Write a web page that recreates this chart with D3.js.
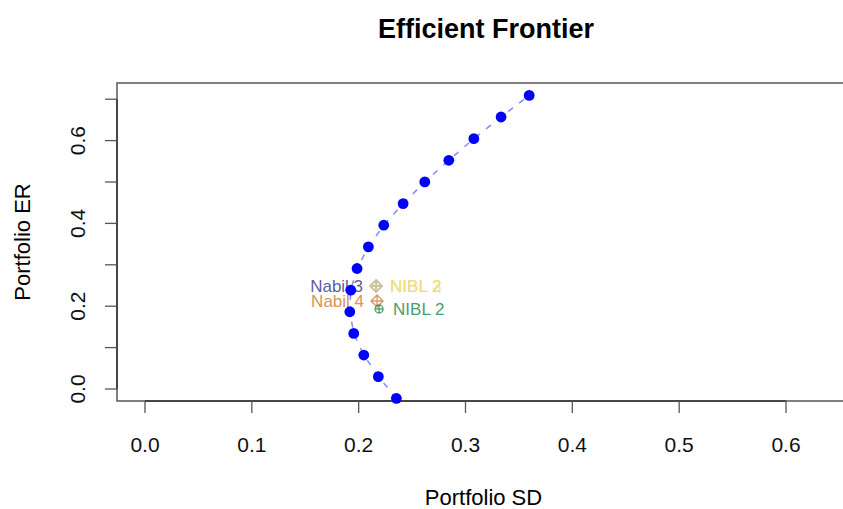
<!DOCTYPE html>
<html>
<head>
<meta charset="utf-8">
<script src="https://cdn.jsdelivr.net/npm/d3@7"></script>
<style>
  body { margin: 0; background: #fff; }
  svg { display: block; font-family: "Liberation Sans", Arial, sans-serif; }
</style>
</head>
<body>
<div id="chart"></div>
<script>
// frontier points
const frontierSD = [0.2353, 0.2184, 0.2048, 0.1954, 0.1917, 0.1926, 0.1985, 0.2091,
                    0.2235, 0.2416, 0.2619, 0.2844, 0.3078, 0.3333, 0.3596];
const frontierER = [-0.0225, 0.0298, 0.0820, 0.1343, 0.1866, 0.2388, 0.2911, 0.3434,
                    0.3956, 0.4479, 0.5002, 0.5524, 0.6047, 0.6570, 0.7092];

// single assets
const assetNames = ["Nabil 3", "Nabil 4", "NIBL 2", "NIBL 2", "NIBL 3"];
const assetSD = [0.2163, 0.2172, 0.2191, 0.2163, 0.2163];
const assetER = [0.2488, 0.2126, 0.1932, 0.2488, 0.2488];
const assetSide = ["left", "left", "right", "right", "right"];
const assetColor = ["#45428a", "#d3803f", "#2f8a55", "#e8cc30", "#efe488"];
const assetMark = ["diamond", "diamond", "circle", "none", "diamond"];

const xTicks = [0, 0.1, 0.2, 0.3, 0.4, 0.5, 0.6];
const yTicks = [0, 0.1, 0.2, 0.3, 0.4, 0.5, 0.6, 0.7];
const yLabels = [0, 0.2, 0.4, 0.6];

const width = 843, height = 509;
const box = { left: 117, top: 83, right: 850, bottom: 401 };

const x = d3.scaleLinear().domain([0, 0.6]).range([145, 786]);
const y = d3.scaleLinear().domain([0, 0.7]).range([389, 99.2]);

const svg = d3.select('#chart')
              .append('svg')
              .attr('width', width)
              .attr('height', height);

// title
svg.append('text')
   .attr('x', 486).attr('y', 38)
   .attr('text-anchor', 'middle')
   .style('font-weight', 'bold')
   .style('font-size', '27px')
   .text('Efficient Frontier');

// plot box
svg.append('rect')
   .attr('x', box.left).attr('y', box.top)
   .attr('width', box.right - box.left).attr('height', box.bottom - box.top)
   .attr('fill', 'none')
   .attr('stroke', '#555')
   .attr('stroke-width', 1.5);

// x axis
const xAxis = svg.append('g').attr('transform', `translate(0, ${box.bottom})`);
xAxis.append('line')
     .attr('x1', x(0)).attr('x2', x(0.6))
     .attr('stroke', '#333').attr('stroke-width', 1.5);
xAxis.selectAll('.tick')
     .data(xTicks)
     .enter()
     .append('line')
     .attr('x1', d => x(d)).attr('x2', d => x(d))
     .attr('y1', 0).attr('y2', 12)
     .attr('stroke', '#555').attr('stroke-width', 1.3);
xAxis.selectAll('.lab')
     .data(xTicks)
     .enter()
     .append('text')
     .attr('x', d => x(d)).attr('y', 51)
     .attr('text-anchor', 'middle')
     .style('font-size', '21px')
     .attr('fill', '#111')
     .text(d => d3.format('.1f')(d));

// y axis
const yAxis = svg.append('g').attr('transform', `translate(${box.left}, 0)`);
yAxis.append('line')
     .attr('y1', y(0)).attr('y2', y(0.7))
     .attr('stroke', '#333').attr('stroke-width', 1.5);
yAxis.selectAll('.tick')
     .data(yTicks)
     .enter()
     .append('line')
     .attr('y1', d => y(d)).attr('y2', d => y(d))
     .attr('x1', 0).attr('x2', -12)
     .attr('stroke', '#555').attr('stroke-width', 1.3);
yAxis.selectAll('.lab')
     .data(yLabels)
     .enter()
     .append('text')
     .attr('transform', d => `translate(-39, ${y(d)}) rotate(-90)`)
     .attr('text-anchor', 'middle')
     .attr('dy', '0.35em')
     .style('font-size', '21px')
     .attr('fill', '#111')
     .text(d => d3.format('.1f')(d));

// axis titles
svg.append('text')
   .attr('x', (box.left + box.right) / 2).attr('y', 505)
   .attr('text-anchor', 'middle')
   .style('font-size', '22px')
   .text('Portfolio SD');

svg.append('text')
   .attr('transform', `translate(30, ${(box.top + box.bottom) / 2}) rotate(-90)`)
   .attr('text-anchor', 'middle')
   .style('font-size', '22px')
   .text('Portfolio ER');

const plot = svg.append('g');

// dashed frontier line
const frontier = frontierSD.map((sd, i) => [sd, frontierER[i]]);
const line = d3.line().x(d => x(d[0])).y(d => y(d[1]));
plot.append('path')
    .datum(frontier)
    .attr('d', line)
    .attr('fill', 'none')
    .attr('stroke', '#8888ff')
    .attr('stroke-width', 1.5)
    .attr('stroke-dasharray', '6,8');

// asset markers
const assets = assetNames.map((name, i) => ({
  name, sd: assetSD[i], er: assetER[i], side: assetSide[i],
  color: assetColor[i], mark: assetMark[i]
}));

const marks = plot.selectAll('.asset')
                  .data(assets.filter(d => d.mark !== 'none'))
                  .enter()
                  .append('g')
                  .attr('transform', d => `translate(${x(d.sd)}, ${y(d.er)})`)
                  .attr('stroke', d => d.color)
                  .attr('stroke-width', 1.4)
                  .attr('fill', 'none')
                  .attr('opacity', 0.8);
marks.filter(d => d.mark === 'diamond')
     .append('path')
     .attr('d', 'M0,-6L6,0L0,6L-6,0Z M0,-6V6 M-6,0H6');
marks.filter(d => d.mark === 'circle')
     .append('path')
     .attr('d', 'M4,0A4,4 0 1,1 -4,0A4,4 0 1,1 4,0Z M0,-4V4 M-4,0H4');

// asset labels (drawn under the frontier points)
plot.selectAll('.alab')
    .data(assets)
    .enter()
    .append('text')
    .attr('x', d => x(d.sd) + (d.side === 'left' ? -13 : 14))
    .attr('y', d => y(d.er))
    .attr('dy', '0.35em')
    .attr('text-anchor', d => d.side === 'left' ? 'end' : 'start')
    .style('font-size', '17px')
    .attr('fill', d => d.color)
    .attr('opacity', 0.85)
    .text(d => d.name);

// frontier points
plot.selectAll('.pt')
    .data(frontier)
    .enter()
    .append('circle')
    .attr('cx', d => x(d[0]))
    .attr('cy', d => y(d[1]))
    .attr('r', 5.4)
    .attr('fill', '#0000ff');
</script>
</body>
</html>
